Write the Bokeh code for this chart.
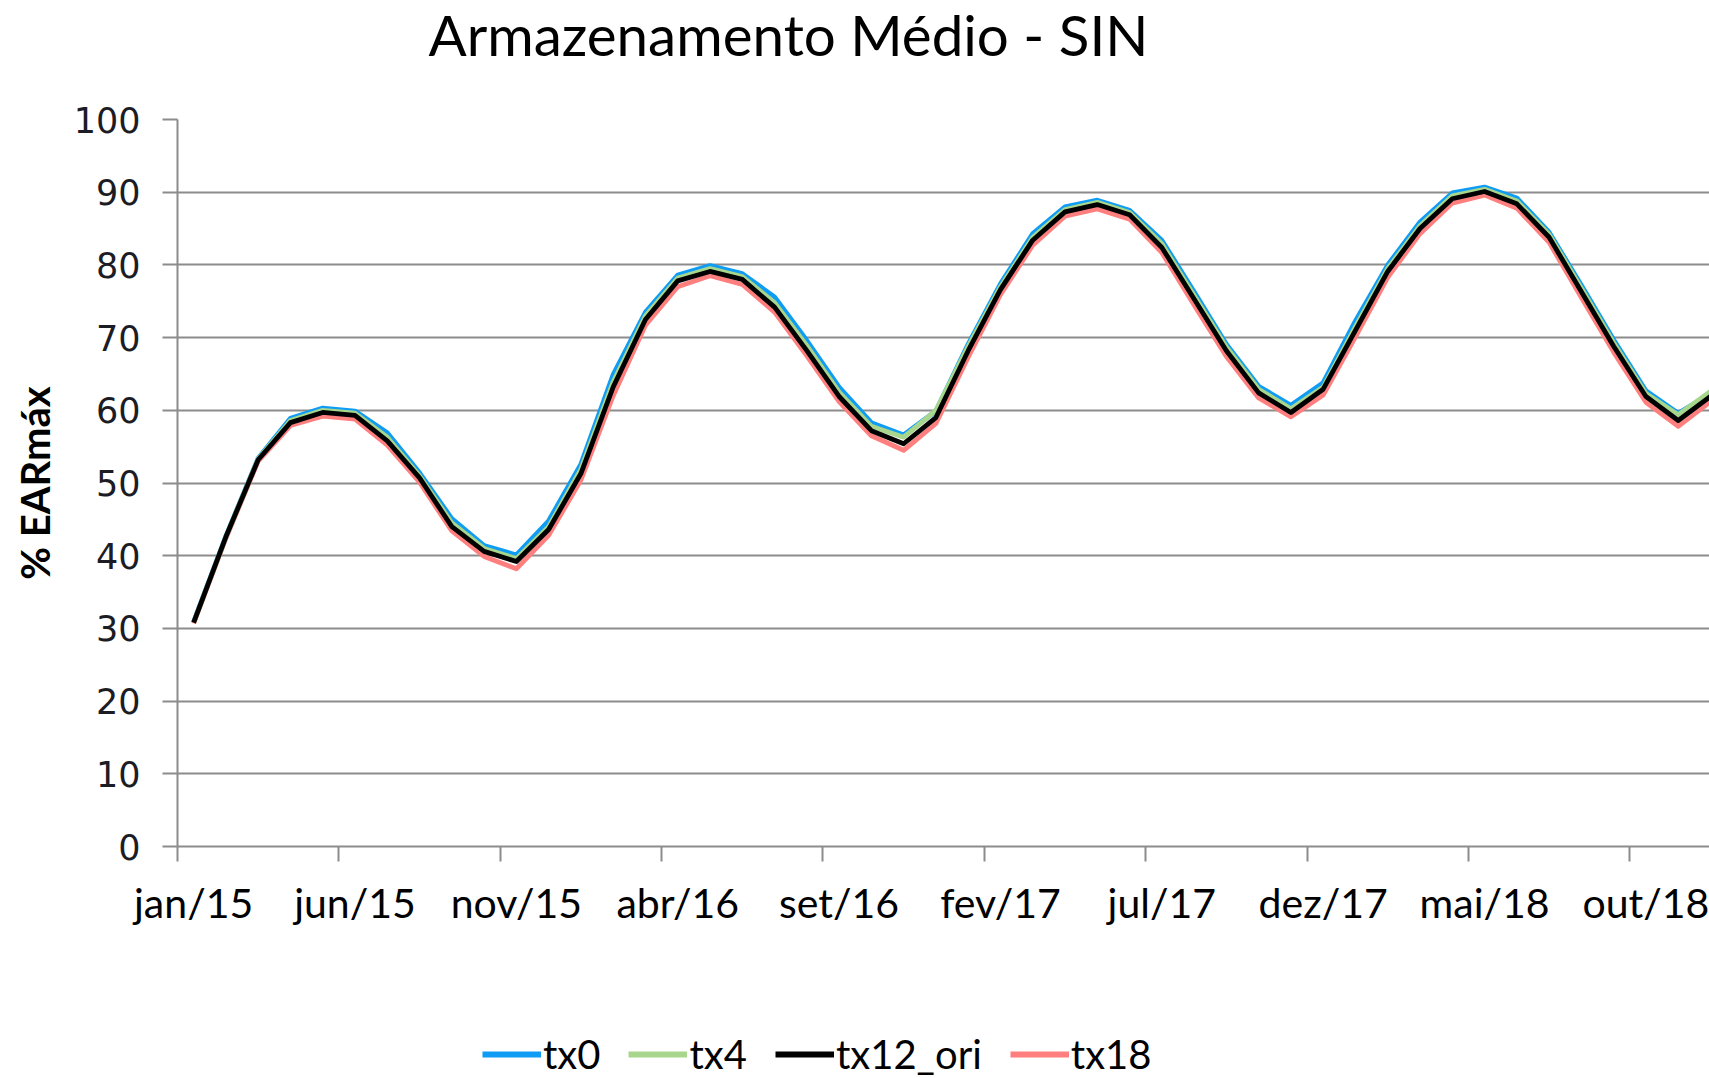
from bokeh.plotting import figure
from bokeh.models import Range1d, FixedTicker, Legend, LegendItem
from bokeh.layouts import column
from bokeh.core.properties import value
from bokeh.embed import file_html
from bokeh.resources import INLINE

months = ["jan/15", "fev/15", "mar/15", "abr/15", "mai/15", "jun/15", "jul/15", "ago/15",
          "set/15", "out/15", "nov/15", "dez/15",
          "jan/16", "fev/16", "mar/16", "abr/16", "mai/16", "jun/16", "jul/16", "ago/16",
          "set/16", "out/16", "nov/16", "dez/16",
          "jan/17", "fev/17", "mar/17", "abr/17", "mai/17", "jun/17", "jul/17", "ago/17",
          "set/17", "out/17", "nov/17", "dez/17",
          "jan/18", "fev/18", "mar/18", "abr/18", "mai/18", "jun/18", "jul/18", "ago/18",
          "set/18", "out/18", "nov/18", "dez/18"]

tick_index = [0, 5, 10, 15, 20, 25, 30, 35, 40, 45]
tick_labels = ["jan/15", "jun/15", "nov/15", "abr/16", "set/16", "fev/17", "jul/17",
               "dez/17", "mai/18", "out/18"]

tx0 = [30.9, 42.7, 53.4, 58.9, 60.3, 59.9, 56.9, 51.4, 45.1, 41.4, 40.1, 44.8,
       52.6, 64.9, 73.5, 78.6, 79.9, 78.8, 75.6, 69.6, 63.2, 58.3, 56.6, 59.9,
       69.1, 77.4, 84.3, 88.0, 88.9, 87.5, 83.4, 76.3, 69.1, 63.3, 60.7, 63.8,
       72.3, 80.0, 85.9, 89.9, 90.7, 89.2, 84.5, 77.2, 69.7, 62.7, 59.6, 62.3]
tx4 = [30.8, 42.6, 53.3, 58.6, 60.0, 59.6, 56.3, 51.0, 44.5, 41.0, 39.6, 44.0,
       51.9, 63.9, 73.0, 78.2, 79.5, 78.4, 74.8, 68.9, 62.5, 57.8, 56.3, 60.0,
       68.8, 77.0, 83.8, 87.6, 88.6, 87.2, 82.9, 75.8, 68.7, 62.9, 60.2, 63.2,
       71.5, 79.5, 85.4, 89.5, 90.4, 88.8, 84.2, 76.8, 69.3, 62.3, 59.4, 62.6]
tx12_ori = [30.8, 42.6, 53.2, 58.3, 59.7, 59.3, 55.8, 50.7, 44.0, 40.6, 39.2, 43.6,
            51.3, 63.2, 72.5, 77.8, 79.1, 78.0, 74.2, 68.2, 61.9, 57.2, 55.4, 59.0,
            68.2, 76.6, 83.4, 87.3, 88.3, 86.9, 82.4, 75.3, 68.2, 62.4, 59.7, 62.9,
            71.0, 79.1, 85.0, 89.1, 90.1, 88.4, 83.8, 76.3, 68.8, 61.9, 58.6, 61.9]
tx18 = [30.7, 42.4, 53.0, 57.9, 59.2, 58.8, 55.2, 50.1, 43.4, 39.9, 38.2, 42.8,
        50.4, 62.0, 71.7, 77.0, 78.5, 77.3, 73.5, 67.5, 61.2, 56.5, 54.5, 58.2,
        67.3, 75.9, 82.7, 86.7, 87.7, 86.3, 81.7, 74.5, 67.4, 61.7, 59.1, 62.1,
        70.1, 78.3, 84.3, 88.5, 89.6, 87.8, 83.1, 75.5, 68.0, 61.1, 57.8, 61.2]

series_names = ["tx0", "tx4", "tx12_ori", "tx18"]
series_values = [tx0, tx4, tx12_ori, tx18]
series_colors = ["#0f9cf5", "#a8d68c", "#000000", "#ff7f7f"]
draw_order = [3, 0, 1, 2]  # tx18, tx0, tx4, then tx12_ori on top

title_text = "Armazenamento Médio - SIN"
GRID = "#8c8c8c"
FULL_W = 1709
FRAME_L = 177
TITLE_H, MAIN_H, LEG_H = 80, 940, 58
x = list(range(len(months)))

# ---------------- title strip (x range in page pixels of the aligned frame) ----------------
tf = figure(width=FULL_W, height=TITLE_H, output_backend="svg", toolbar_location=None,
            x_range=Range1d(FRAME_L, FULL_W), y_range=Range1d(0, TITLE_H),
            x_axis_location=None, y_axis_location=None,
            min_border_left=0, min_border_right=0, min_border_top=0, min_border_bottom=0)
tf.outline_line_color = None
tf.xgrid.visible = False
tf.ygrid.visible = False
tf.text(x=[428], y=[47], text=[title_text], text_font=value("Lato"),
        text_font_size="56.5px", text_color="#000000", text_align="left",
        text_baseline="alphabetic")

# ---------------- main chart ----------------
p = figure(width=FULL_W, height=MAIN_H, output_backend="svg", toolbar_location=None,
           x_range=Range1d(-0.5, 46.97), y_range=Range1d(0, 100),
           min_border_left=FRAME_L, min_border_right=0, min_border_top=119 - TITLE_H,
           min_border_bottom=MAIN_H - (846 - TITLE_H))
p.outline_line_color = None
p.background_fill_color = "white"

p.xgrid.visible = False
p.ygrid.grid_line_color = GRID
p.ygrid.grid_line_width = 2
p.ygrid.ticker = FixedTicker(ticks=list(range(0, 101, 10)))

p.yaxis.ticker = FixedTicker(ticks=list(range(0, 101, 10)))
p.yaxis.axis_line_color = GRID
p.yaxis.axis_line_width = 2
p.yaxis.major_tick_line_color = GRID
p.yaxis.major_tick_line_width = 2
p.yaxis.major_tick_out = 15
p.yaxis.major_tick_in = 0
p.yaxis.minor_tick_line_color = None
p.yaxis.major_label_text_font = "DejaVu Sans"
p.yaxis.major_label_text_font_size = "35px"
p.yaxis.major_label_text_color = "#1c1c24"
p.yaxis.major_label_standoff = 22
p.yaxis.axis_label = "% EARmáx"
p.yaxis.axis_label_text_font = "Lato"
p.yaxis.axis_label_text_font_style = "bold"
p.yaxis.axis_label_text_font_size = "40px"
p.yaxis.axis_label_text_color = "#000000"
p.yaxis.axis_label_standoff = 12

p.xaxis.ticker = FixedTicker(ticks=tick_index, minor_ticks=[i - 0.5 for i in tick_index])
p.xaxis.major_label_overrides = {i: lab for i, lab in zip(tick_index, tick_labels)}
p.xaxis.axis_line_color = GRID
p.xaxis.axis_line_width = 2
p.xaxis.major_tick_out = 0
p.xaxis.major_tick_in = 0
p.xaxis.major_tick_line_color = None
p.xaxis.minor_tick_out = 15
p.xaxis.minor_tick_in = 0
p.xaxis.minor_tick_line_color = GRID
p.xaxis.minor_tick_line_width = 2
p.xaxis.major_label_text_font = "Lato"
p.xaxis.major_label_text_font_size = "41px"
p.xaxis.major_label_text_color = "#000000"
p.xaxis.major_label_standoff = 16

for k in draw_order:
    p.line(x, series_values[k], line_color=series_colors[k], line_width=4.8,
           line_join="round")

# ---------------- legend strip ----------------
lf = figure(width=FULL_W, height=LEG_H, output_backend="svg", toolbar_location=None,
            x_range=Range1d(0, 1), y_range=Range1d(0, 1),
            x_axis_location=None, y_axis_location=None,
            min_border_left=0, min_border_right=0, min_border_top=0, min_border_bottom=0)
lf.outline_line_color = None
lf.xgrid.visible = False
lf.ygrid.visible = False
# proxy renderers (drawn outside the strip's range) that only carry the legend styles
leg_renderers = [lf.line([-5, -4], [-5, -5], line_color=c, line_width=6) for c in series_colors]
legend = Legend(items=[LegendItem(label=n, renderers=[r]) for n, r in zip(series_names, leg_renderers)],
                orientation="horizontal", location=(482 - FRAME_L, 0),
                glyph_width=59, glyph_height=40, label_standoff=2, spacing=28,
                padding=0, margin=0, border_line_color=None, background_fill_alpha=0,
                label_text_font="Lato", label_text_font_size="40px", label_text_color="#000000")
lf.add_layout(legend, "center")

layout = column(tf, p, lf, spacing=0)
open("out.html", "w").write(file_html(layout, INLINE))
